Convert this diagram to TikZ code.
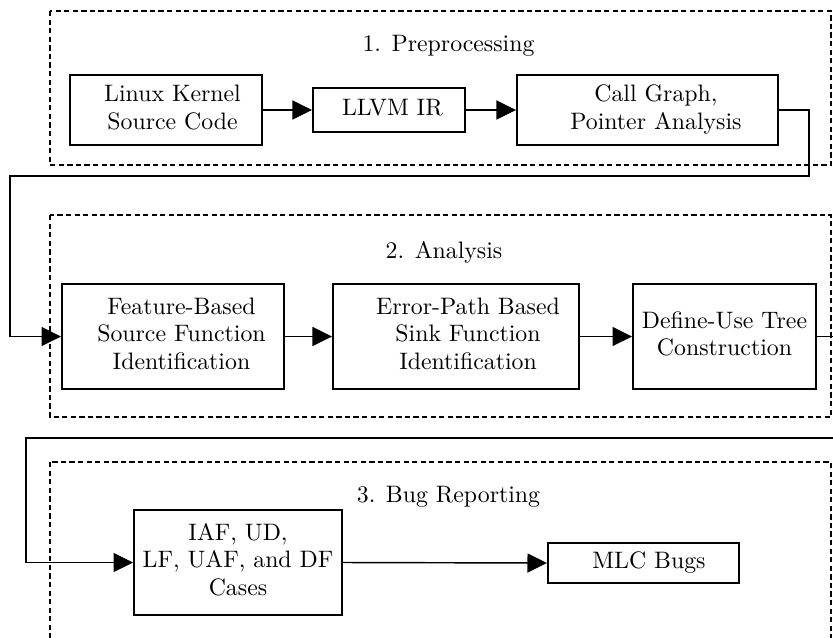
\documentclass[tikz,border=0pt]{standalone}
\usetikzlibrary{arrows.meta}
\newcommand{\mytxt}[2]{\hspace*{#1}\begin{tabular}{@{}c@{}}#2\end{tabular}}
\begin{document}
\begin{tikzpicture}[x=0.4202pt,y=-0.4202pt,
  every node/.style={font=\fontsize{10}{11.5}\selectfont},
  procbox/.style={draw,line width=0.8pt,inner sep=0pt,minimum width=#1},
  stagebox/.style={draw,line width=0.5pt,dash pattern=on 2.2pt off 1.4pt},
  conn/.style={line width=0.6pt,-{Triangle[length=8.2pt,width=8pt]}},
  stagelabel/.style={anchor=base,inner sep=0pt}]
\useasboundingbox (0,0) rectangle (833,637);
\clip (0,0) rectangle (833,637);
% stage frames
\draw[stagebox] (50,11) rectangle (831,165);
\draw[stagebox] (50,215) rectangle (831,417);
\draw[stagebox] (50,462) rectangle (831,700);
% stage labels
\node[stagelabel] (l1) at (448.5,51) {1. Preprocessing};
\node[stagelabel] (l2) at (444,258) {2. Analysis};
\node[stagelabel] (l3) at (448.5,502) {3. Bug Reporting};
% stage 1
\node[procbox=80.7pt,minimum height=29.4pt] (linux) at (166,110) {\mytxt{5.5pt}{Linux Kernel\\Source Code}};
\node[procbox=63.9pt,minimum height=18.5pt] (llvm) at (389,110) {\mytxt{2.9pt}{LLVM IR}};
\node[procbox=109.7pt,minimum height=29.4pt] (cg) at (647.5,110) {\mytxt{7.1pt}{Call Graph,\\Pointer Analysis}};
% stage 2
\node[procbox=93.3pt,minimum height=44.1pt] (feat) at (173,336.5) {\mytxt{7.1pt}{Feature-Based\\Source Function\\Identification}};
\node[procbox=103.4pt,minimum height=44.1pt] (err) at (456,336.5) {\mytxt{10.1pt}{Error-Path Based\\Sink Function\\Identification}};
\node[procbox=76.9pt,minimum height=44.1pt] (du) at (724.5,336.5) {\mytxt{0pt}{Define-Use Tree\\Construction}};
% stage 3
\node[procbox=87.4pt,minimum height=44.1pt] (iaf) at (238,562.5) {\mytxt{0pt}{IAF, UD,\\LF, UAF, and DF\\Cases}};
\node[procbox=80.3pt,minimum height=16.8pt] (mlc) at (643.5,563) {\mytxt{4.6pt}{MLC Bugs}};
% routing points
\coordinate (r1) at (809,110);
\coordinate (r2) at (809,176);
\coordinate (r3) at (10,176);
\coordinate (r4) at (10,336.5);
\coordinate (s1) at (850,336.5);
\coordinate (s2) at (850,438);
\coordinate (s3) at (26,438);
\coordinate (s4) at (26,562.5);
% connectors
\draw[conn] (linux.east) -- (llvm.west);
\draw[conn] (llvm.east) -- (cg.west);
\draw[conn] (cg.east) -- (r1) -- (r2) -- (r3) -- (r4) -- (feat.west);
\draw[conn] (feat.east) -- (err.west);
\draw[conn] (err.east) -- (du.west);
\draw[conn] (du.east) -- (s1) -- (s2) -- (s3) -- (s4) -- (iaf.west);
\draw[conn] (iaf.east) -- (mlc.west);
\end{tikzpicture}
\end{document}
